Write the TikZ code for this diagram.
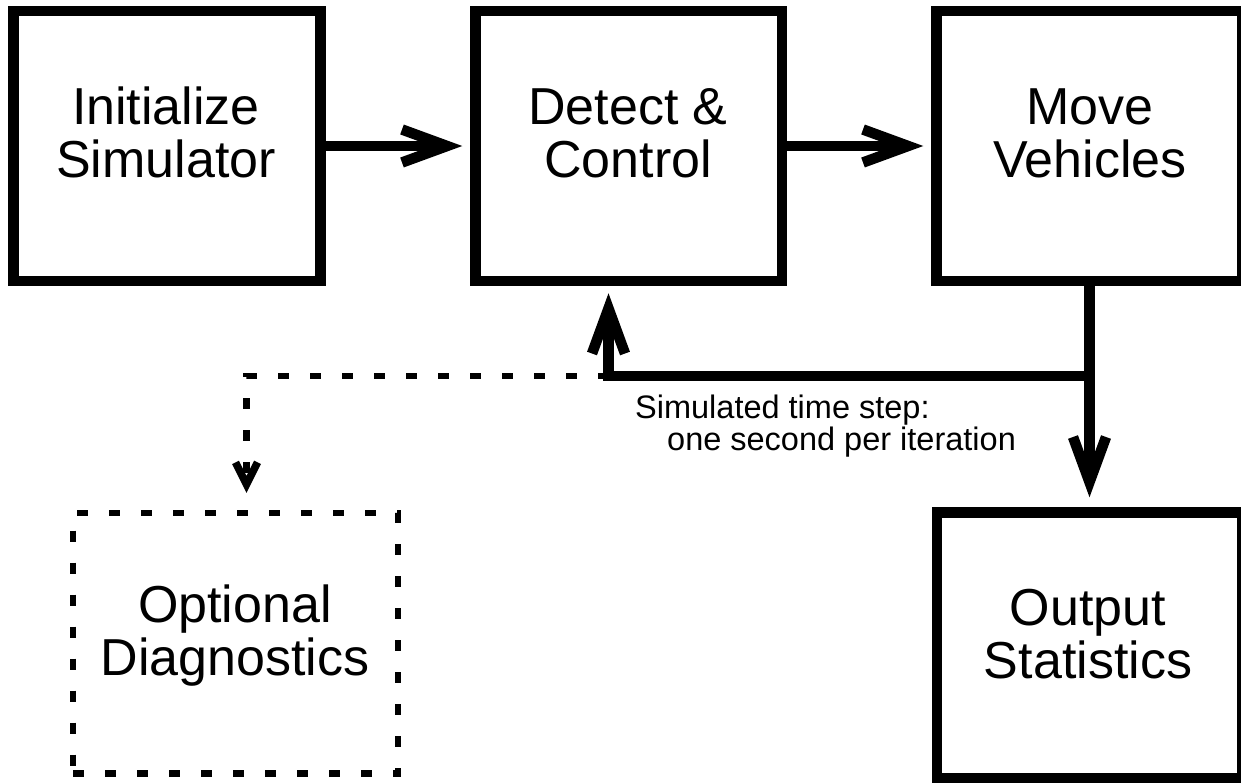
\documentclass[tikz,border=0pt]{standalone}
\usepackage{fontspec}
\setmainfont{Liberation Sans}
\usetikzlibrary{arrows.meta}
\tikzset{
  box/.style={draw, line width=10.5pt, inner sep=0pt},
  dbox/.style={draw, line width=6.5pt, inner sep=0pt, dash pattern=on 11pt off 21pt},
  boxtext/.style={align=center, inner sep=0pt, font=\fontsize{52}{53}\selectfont},
  lbl/.style={align=left, inner sep=0pt, font=\fontsize{32.5}{28}\selectfont},
  flow/.style={line width=10.5pt, -{Straight Barb[length=45pt, width=33pt]}},
  dflow/.style={line width=6.5pt, dash pattern=on 10.5pt off 21.5pt,
     -{Straight Barb[length=22pt, width=22pt, line width=7.5pt]}}
}
\begin{document}
\begin{tikzpicture}[x=1pt, y=-1pt]
\useasboundingbox (0,0) rectangle (1241,782);
\fill[white] (0,0) rectangle (1241,782);
% boxes
\node[box, minimum width=307pt, minimum height=270pt] (init) at (167,146) {};
\node[box, minimum width=306.5pt, minimum height=270pt] (detect) at (628.75,146) {};
\node[box, minimum width=306pt, minimum height=270pt] (move) at (1089.5,146) {};
\node[box, minimum width=305pt, minimum height=266pt] (output) at (1089.5,645.5) {};
\node[dbox, minimum width=325pt, minimum height=260.5pt] (diag) at (235.5,643.25) {};
% texts (base anchor = baseline of the last line)
\node[boxtext, anchor=base] (initT) at (166,177) {Initialize\\Simulator};
\node[boxtext, anchor=base] (detectT) at (628,177) {Detect \&\\Control};
\node[boxtext, anchor=base] (moveT) at (1090,177) {Move\\Vehicles};
\node[boxtext, anchor=base] (outputT) at (1088,678) {Output\\Statistics};
\node[boxtext, anchor=base] (diagT) at (235,675) {Optional\\Diagnostics};
\node[lbl, anchor=base west] (step) at (635,450) {Simulated time step:\\\hspace*{32pt}one second per iteration};
% connectors
\draw[flow, shorten >=8pt] (init.east) -- (detect.west);
\draw[flow, shorten >=8pt] (detect.east) -- (move.west);
\draw[flow, shorten >=10pt] (move.south) -- (output.north);
\coordinate (j) at (1089.5,376);
\coordinate (fbtop) at ([xshift=-20.25pt]detect.south);
\coordinate (corner) at (fbtop |- j);
\coordinate (dtop) at ([xshift=11pt]diag.north);
\draw[flow, shorten >=7pt, line join=miter] (j) -| (fbtop);
\draw[dflow, shorten >=17pt] (corner) -| (dtop);
\end{tikzpicture}
\end{document}
